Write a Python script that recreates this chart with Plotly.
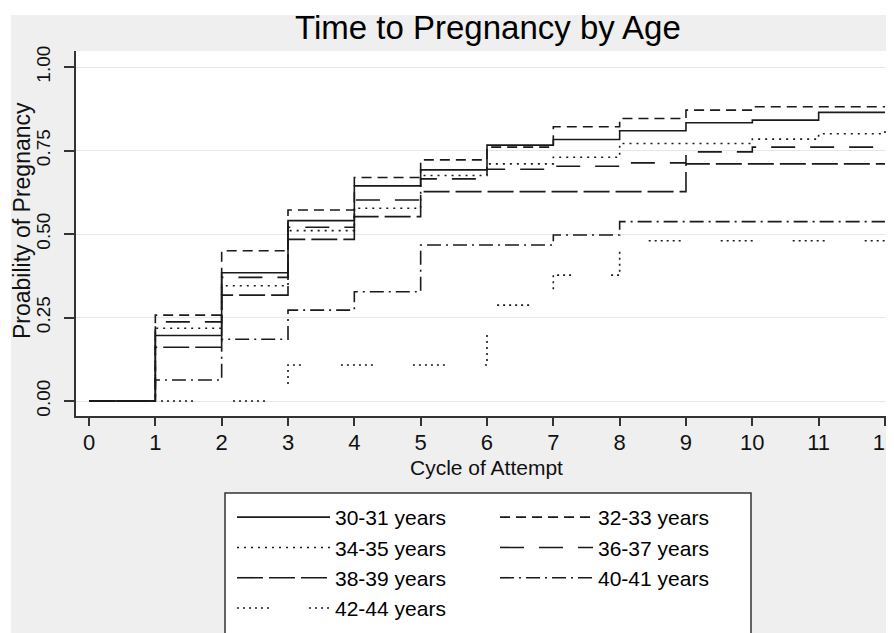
import plotly.graph_objects as go

# ---- data ----
cycles = [0, 1, 2, 3, 4, 5, 6, 7, 8, 9, 10, 11, 12]
age_30_31 = [0, .196, .384, .540, .644, .692, .766, .783, .809, .833, .841, .864, .864]
age_32_33 = [0, .257, .450, .572, .669, .722, .760, .821, .846, .871, .881, .881, .881]
age_34_35 = [0, .218, .345, .510, .577, .675, .710, .730, .771, .771, .784, .800, .817]
age_36_37 = [0, .237, .370, .520, .602, .665, .694, .703, .713, .746, .760, .760, .760]
age_38_39 = [0, .161, .317, .484, .552, .627, .627, .627, .627, .710, .710, .710, .710]
age_40_41 = [0, .063, .185, .272, .327, .467, .467, .497, .537, .537, .537, .537, .537]
age_42_44 = [0, 0, 0, .108, .108, .108, .287, .377, .480, .480, .480, .480, .480]

series_names = ["30-31 years", "32-33 years", "34-35 years", "36-37 years",
                "38-39 years", "40-41 years", "42-44 years"]
series_vals = [age_30_31, age_32_33, age_34_35, age_36_37, age_38_39, age_40_41, age_42_44]
y_tickvals = [0, 0.25, 0.5, 0.75, 1.0]
y_ticktext = ["0.00", "0.25", "0.50", "0.75", "1.00"]
x_tickvals = cycles

# ---- styles ----
dashes = [
    "solid",
    "10px,6px",
    "2px,5px",
    "24px,15px",
    "26px,6px",
    "14px,5px,2px,5px",
    "2px,4px,2px,4px,2px,4px,2px,4px,2px,4px,2px,40px",
]
legend_ids = ["legend", "legend2", "legend", "legend2", "legend", "legend2", "legend"]
FONT = "Liberation Sans, Arial, sans-serif"
INK = "#1a1a1a"

# The page body has an 8px margin, so the figure is sized to fit the window
OFF = 8
W, H = 894 - OFF, 633 - OFF
ML, MR, MT, MB = 76 - OFF, 0, 51 - OFF, H - (416 - OFF)
PW, PH = W - ML - MR, H - MT - MB


def px_x(s):
    """screen x pixel -> paper x"""
    return (s - OFF - ML) / PW


def px_y(s):
    """screen y pixel -> paper y"""
    return (H - MB - (s - OFF)) / PH


fig = go.Figure()
for name, vals, dash, lg in zip(series_names, series_vals, dashes, legend_ids):
    fig.add_trace(go.Scatter(
        x=cycles, y=vals, mode="lines", name=name,
        line=dict(shape="hv", color=INK, width=1.6, dash=dash),
        legend=lg,
    ))

legend_common = dict(
    orientation="v", xanchor="left", yanchor="top",
    bgcolor="rgba(0,0,0,0)", borderwidth=0,
    font=dict(family=FONT, size=21, color="#000"),
    itemwidth=93, traceorder="normal",
    itemclick=False, itemdoubleclick=False,
)

fig.update_layout(
    width=W, height=H,
    margin=dict(l=ML, r=MR, t=MT, b=MB, autoexpand=False),
    paper_bgcolor="#efefef",
    plot_bgcolor="#ffffff",
    font=dict(family=FONT, color="#000"),
    showlegend=True,
    legend=dict(x=px_x(232), y=px_y(497), **legend_common),
    legend2=dict(x=px_x(495), y=px_y(497), **legend_common),
    xaxis=dict(
        range=[-0.196, 12.136], tickmode="array", tickvals=x_tickvals,
        ticktext=[str(v) for v in x_tickvals], ticklabeloverflow="allow",
        ticklabelstandoff=-2,
        showgrid=False, zeroline=False, showline=True, linecolor="#333",
        linewidth=1.5, ticks="outside", ticklen=8, tickwidth=1.5, tickcolor="#333",
        tickfont=dict(family=FONT, size=22, color="#111"), automargin=False,
    ),
    yaxis=dict(
        range=[-0.0449, 1.0479], tickmode="array", tickvals=y_tickvals,
        ticktext=y_ticktext, tickangle=-90, ticklabelstandoff=7,
        showgrid=True, gridcolor="#e6e6e6", gridwidth=1.2, zeroline=False,
        showline=True, linecolor="#333", linewidth=1.5,
        ticks="outside", ticklen=10, tickwidth=1.5, tickcolor="#333",
        tickfont=dict(family=FONT, size=19, color="#111"), automargin=False,
    ),
    shapes=[
        # white strips outside the grey graph region
        dict(type="rect", xref="paper", yref="paper", layer="below",
             x0=px_x(0), x1=px_x(11), y0=px_y(640), y1=px_y(0),
             fillcolor="#ffffff", line=dict(width=0)),
        dict(type="rect", xref="paper", yref="paper", layer="below",
             x0=px_x(0), x1=px_x(900), y0=px_y(15), y1=px_y(0),
             fillcolor="#ffffff", line=dict(width=0)),
        # legend frame
        dict(type="rect", xref="paper", yref="paper", layer="below",
             x0=px_x(225), x1=px_x(751), y0=px_y(493), y1=px_y(650),
             fillcolor="#ffffff", line=dict(color="#333", width=1.5)),
    ],
    annotations=[
        dict(text="Time to Pregnancy by Age", xref="paper", yref="paper",
             x=px_x(488), y=px_y(28), xanchor="center", yanchor="middle",
             showarrow=False, font=dict(family=FONT, size=33, color="#000")),
        dict(text="Cycle of Attempt", xref="paper", yref="paper",
             x=px_x(487), y=px_y(467), xanchor="center", yanchor="middle",
             showarrow=False, font=dict(family=FONT, size=21, color="#111")),
        dict(text="Proability of Pregnancy", xref="paper", yref="paper",
             x=px_x(22), y=px_y(221), xanchor="center", yanchor="middle",
             textangle=-90, showarrow=False,
             font=dict(family=FONT, size=23, color="#111")),
    ],
)

fig.write_html("out.html")
